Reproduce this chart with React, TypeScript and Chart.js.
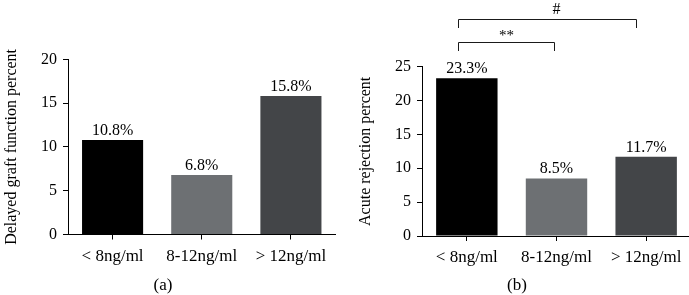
import React, { useEffect, useRef } from 'react';
import { Chart, registerables } from 'chart.js';

Chart.register(...registerables);

// ---- data ----
const categories = ['< 8ng/ml', '8-12ng/ml', '> 12ng/ml'];
const dgfValues = [10.8, 6.8, 15.8];
const dgfLabels = ['10.8%', '6.8%', '15.8%'];
const arValues = [23.3, 8.5, 11.7];
const arLabels = ['23.3%', '8.5%', '11.7%'];
const dgfAxisMax = 20;
const arAxisMax = 25;
const tickStep = 5;
const comparisons = [
  { from: 0, to: 1, label: '**' },
  { from: 0, to: 2, label: '#' },
];

// ---- style ----
const FONT = "'Liberation Serif', 'Times New Roman', 'DejaVu Serif', serif";
const barColors = ['#000000', '#6d7073', '#434548'];

type PanelProps = {
  values: number[];
  labels: string[];
  max: number;
  title: string;
  caption: string;
  left: number;
  width: number;
  yAxisWidth: number;
  padTop: number;
  padRight: number;
  xAxisHeight: number;
  titlePad: number;
  brackets?: { from: number; to: number; label: string }[];
};

function Panel(p: PanelProps) {
  const ref = useRef<HTMLCanvasElement | null>(null);

  useEffect(() => {
    if (!ref.current) return;

    const valueLabels = {
      id: 'valueLabels',
      afterDatasetsDraw(chart: any) {
        const ctx = chart.ctx;
        const meta = chart.getDatasetMeta(0);
        ctx.save();
        ctx.font = `16px ${FONT}`;
        ctx.fillStyle = '#000';
        ctx.textAlign = 'center';
        ctx.textBaseline = 'alphabetic';
        meta.data.forEach((bar: any, i: number) => {
          ctx.fillText(p.labels[i], bar.x, bar.y - 5);
        });
        ctx.restore();
      },
    };

    const captionPlugin = {
      id: 'caption',
      afterDraw(chart: any) {
        const ctx = chart.ctx;
        ctx.save();
        ctx.font = `17px ${FONT}`;
        ctx.fillStyle = '#000';
        ctx.textAlign = 'center';
        ctx.textBaseline = 'alphabetic';
        ctx.fillText(p.caption, chart.chartArea.left + 95, 290);
        ctx.restore();
      },
    };

    const bracketPlugin = {
      id: 'brackets',
      afterDraw(chart: any) {
        if (!p.brackets) return;
        const ctx = chart.ctx;
        const xs = chart.scales.x;
        const top = chart.chartArea.top;
        // row styling: vertical offset above plot, end offsets
        const rows = [
          { lineY: top - 24.5, leftOff: -8.5, rightOff: -2.5, textDy: -3, fontSize: 15, labelAtMid: true },
          { lineY: top - 47.5, leftOff: -8.5, rightOff: -10, textDy: -6, fontSize: 16, labelAtMid: false },
        ];
        ctx.save();
        ctx.strokeStyle = '#1a1a1a';
        ctx.lineWidth = 1;
        ctx.fillStyle = '#000';
        ctx.textAlign = 'center';
        ctx.textBaseline = 'alphabetic';
        p.brackets.forEach((b, i) => {
          const r = rows[i];
          const x1 = Math.round(xs.getPixelForValue(b.from) + r.leftOff) + 0.5;
          const x2 = Math.round(xs.getPixelForValue(b.to) + r.rightOff) + 0.5;
          const y = Math.round(r.lineY) + 0.5;
          ctx.beginPath();
          ctx.moveTo(x1, y + 8.5);
          ctx.lineTo(x1, y);
          ctx.lineTo(x2, y);
          ctx.lineTo(x2, y + 8.5);
          ctx.stroke();
          ctx.font = `${r.fontSize}px ${FONT}`;
          const lx = r.labelAtMid ? (x1 + x2) / 2 : xs.getPixelForValue((b.from + b.to) / 2);
          ctx.fillText(b.label, lx, y + r.textDy);
        });
        ctx.restore();
      },
    };

    const font = { family: FONT, size: 16 };
    const xFont = { family: FONT, size: 17 };
    const chart = new Chart(ref.current, {
      type: 'bar',
      data: {
        labels: categories,
        datasets: [
          {
            data: p.values,
            backgroundColor: barColors,
            borderWidth: 0,
            barPercentage: 0.685,
            categoryPercentage: 1,
          },
        ],
      },
      options: {
        animation: false,
        responsive: false,
        devicePixelRatio: 1,
        layout: { padding: { left: 0, right: p.padRight, top: p.padTop, bottom: 0 } },
        plugins: {
          legend: { display: false },
          tooltip: { enabled: false },
        },
        scales: {
          x: {
            offset: true,
            grid: {
              display: true,
              drawOnChartArea: false,
              drawTicks: true,
              tickLength: 5,
              color: '#000',
              lineWidth: 1,
              offset: false,
            },
            border: { display: true, color: '#000', width: 1 },
            ticks: { color: '#000', font: xFont, padding: 6.5, maxRotation: 0, autoSkip: false },
            afterFit: (s: any) => {
              s.height = p.xAxisHeight;
            },
          },
          y: {
            min: 0,
            max: p.max,
            ticks: { stepSize: tickStep, color: '#000', font, padding: 6 },
            grid: {
              display: true,
              drawOnChartArea: false,
              drawTicks: true,
              tickLength: 5,
              color: '#000',
              lineWidth: 1,
            },
            border: { display: true, color: '#000', width: 1 },
            title: {
              display: true,
              text: p.title,
              color: '#000',
              font,
              padding: { top: p.titlePad, bottom: 0 },
            },
            afterFit: (s: any) => {
              s.width = p.yAxisWidth;
            },
          },
        },
      } as any,
      plugins: [valueLabels, bracketPlugin, captionPlugin],
    });
    return () => chart.destroy();
  }, []);

  return (
    <canvas
      ref={ref}
      width={p.width}
      height={295}
      style={{ position: 'absolute', left: p.left, top: 0, width: p.width, height: 295 }}
    />
  );
}

export default function App() {
  return (
    <div
      style={{
        position: 'fixed',
        left: 0,
        top: 0,
        width: 689,
        height: 295,
        overflow: 'hidden',
        background: '#fff',
      }}
    >
      <Panel
        values={dgfValues}
        labels={dgfLabels}
        max={dgfAxisMax}
        title="Delayed graft function percent"
        caption="(a)"
        left={0}
        width={345}
        yAxisWidth={68}
        padTop={59.3}
        padRight={9.5}
        xAxisHeight={60.5}
        titlePad={2.4}
      />
      <Panel
        values={arValues}
        labels={arLabels}
        max={arAxisMax}
        title="Acute rejection percent"
        caption="(b)"
        left={345}
        width={355}
        yAxisWidth={77}
        padTop={66.7}
        padRight={9}
        xAxisHeight={59}
        titlePad={11.4}
        brackets={comparisons}
      />
    </div>
  );
}
